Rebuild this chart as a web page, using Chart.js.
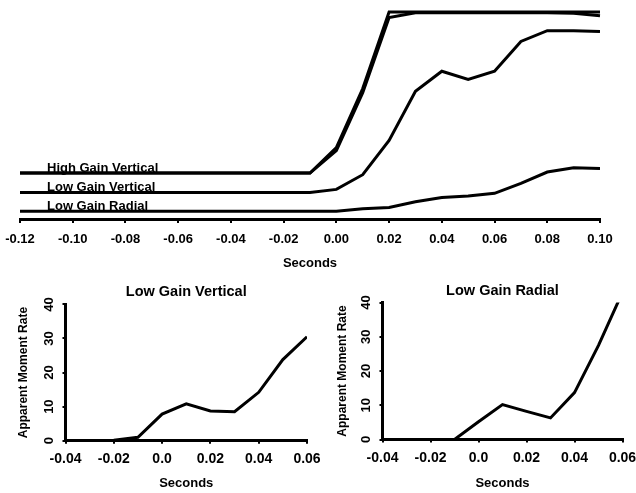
<!DOCTYPE html>
<html lang="en">
<head>
<meta charset="UTF-8">
<title>Apparent Moment Rate</title>
<style>
  body { margin: 0; background: #fff; }
  .page { position: relative; width: 636px; height: 493px; overflow: hidden; background: #fff; }
  canvas { position: absolute; }
  #topChart { left: 0; top: 0; }
  #leftChart { left: 0; top: 280px; }
  #rightChart { left: 318px; top: 280px; }
</style>
</head>
<body>
<div class="page">
  <canvas id="topChart" width="636" height="280"></canvas>
  <canvas id="leftChart" width="330" height="213"></canvas>
  <canvas id="rightChart" width="318" height="213"></canvas>
</div>

<script src="https://cdn.jsdelivr.net/npm/chart.js"></script>
<script>
// ---- data ----
// top panel: traces vs time (arbitrary amplitude, axis at 0)
const topSeconds = [-0.12, -0.11, -0.10, -0.09, -0.08, -0.07, -0.06, -0.05, -0.04, -0.03, -0.02, -0.01,
                    0.00, 0.01, 0.02, 0.03, 0.04, 0.05, 0.06, 0.07, 0.08, 0.09, 0.10, 0.11];
const highGainVertical = [22.2, 22.2, 22.2, 22.2, 22.2, 22.2, 22.2, 22.2, 22.2, 22.2, 22.2, 22.2,
                          34.5, 63, 100, 100, 100, 100, 100, 100, 100, 100, 100, null];
const highGainVertical2 = [22.2, 22.2, 22.2, 22.2, 22.2, 22.2, 22.2, 22.2, 22.2, 22.2, 22.2, 22.2,
                           33, 61, 97.3, 99.6, 99.6, 99.6, 99.6, 99.6, 99.6, 99.4, 98.2, null];
const lowGainVertical = [12.8, 12.8, 12.8, 12.8, 12.8, 12.8, 12.8, 12.8, 12.8, 12.8, 12.8, 12.8,
                         14.3, 21.4, 38, 61.7, 71.4, 67.4, 71.4, 85.8, 91, 91, 90.6, 68.9];
const lowGainRadial = [3.7, 3.7, 3.7, 3.7, 3.7, 3.7, 3.7, 3.7, 3.7, 3.7, 3.7, 3.7,
                       3.7, 5.0, 5.6, 8.3, 10.4, 11.1, 12.4, 17.2, 22.7, 24.7, 24.4, 23.1];
const topTickValues = [-0.12, -0.10, -0.08, -0.06, -0.04, -0.02, 0.00, 0.02, 0.04, 0.06, 0.08, 0.10];

// bottom panels: apparent moment rate
const rateSeconds = [-0.04, -0.03, -0.02, -0.01, 0.00, 0.01, 0.02, 0.03, 0.04, 0.05, 0.06];
const verticalRate = [-0.4, 0, 0.1, 1.0, 7.8, 10.8, 8.7, 8.5, 14.2, 23.8, 30.5];
const radialRate = [0, 0, -0.3, 0, 5.2, 10.2, 8.2, 6.3, 13.7, 27.5, 43];
const rateTickValues = [-0.04, -0.02, 0, 0.02, 0.04, 0.06];
const rateTickLabels = ['-0.04', '-0.02', '0.0', '0.02', '0.04', '0.06'];
const rateYTicks = [0, 10, 20, 30, 40];

Chart.defaults.font.family = '"Liberation Sans", Arial, sans-serif';
Chart.defaults.color = '#000';

function pts(xs, ys) {
    return xs.map((x, i) => ({ x: x, y: ys[i] }));
}

function trace(label, xs, ys, clip) {
    return {
        label: label,
        data: pts(xs, ys),
        borderColor: '#000',
        borderWidth: 3,
        pointRadius: 0,
        tension: 0,
        fill: false,
        clip: clip
    };
}

// fixed axis band, no extra side room for the end labels
function fixHeight(h) {
    return s => { s.height = h; s.paddingLeft = 0; s.paddingRight = 0; };
}

// names written just above the start of each trace
const seriesLabels = {
    id: 'seriesLabels',
    afterDatasetsDraw(chart) {
        const ctx = chart.ctx;
        ctx.save();
        ctx.font = 'bold 13px "Liberation Sans", Arial, sans-serif';
        ctx.fillStyle = '#000';
        ctx.textBaseline = 'alphabetic';
        chart.data.datasets.forEach((ds, i) => {
            if (!ds.label) return;
            const p = chart.getDatasetMeta(i).data[0];
            ctx.fillText(ds.label, p.x + 27, p.y - 1.5);
        });
        ctx.restore();
    }
};

// top panel
new Chart(document.getElementById('topChart'), {
    type: 'line',
    data: {
        datasets: [
            trace('High Gain Vertical', topSeconds, highGainVertical, false),
            trace('', topSeconds, highGainVertical2, false),
            trace('Low Gain Vertical', topSeconds, lowGainVertical, false),
            trace('Low Gain Radial', topSeconds, lowGainRadial, false)
        ]
    },
    options: {
        responsive: false,
        animation: false,
        layout: { padding: { left: 20, right: 36, top: 12, bottom: 0 } },
        plugins: { legend: { display: false }, tooltip: { enabled: false } },
        scales: {
            x: {
                type: 'linear',
                min: -0.12,
                max: 0.10,
                afterBuildTicks: s => { s.ticks = topTickValues.map(v => ({ value: v })); },
                afterFit: fixHeight(61),
                ticks: {
                    callback: v => v.toFixed(2),
                    font: { size: 13, weight: 'bold' },
                    padding: 9,
                    maxRotation: 0,
                    autoSkip: false
                },
                grid: { drawOnChartArea: false, tickLength: 4, color: '#000', lineWidth: 2 },
                border: { color: '#000', width: 3 },
                title: {
                    display: true,
                    text: 'Seconds',
                    font: { size: 13, weight: 'bold' },
                    padding: { top: 4, bottom: 9 }
                }
            },
            y: { display: false, min: 0, max: 100 }
        }
    },
    plugins: [seriesLabels]
});

function ratePanel(id, title, values, pad, yWidth, xHeight, titlePad, yTitlePad) {
    return new Chart(document.getElementById(id), {
        type: 'line',
        data: { datasets: [trace('', rateSeconds, values, undefined)] },
        options: {
            responsive: false,
            animation: false,
            layout: { padding: pad },
            plugins: {
                legend: { display: false },
                tooltip: { enabled: false },
                title: {
                    display: true,
                    text: title,
                    fullSize: false,
                    color: '#000',
                    font: { size: 14.5, weight: 'bold' },
                    padding: titlePad
                }
            },
            scales: {
                x: {
                    type: 'linear',
                    min: -0.04,
                    max: 0.06,
                    afterBuildTicks: s => { s.ticks = rateTickValues.map(v => ({ value: v })); },
                    afterFit: fixHeight(xHeight),
                    ticks: {
                        callback: (v, i) => rateTickLabels[i],
                        font: { size: 14, weight: 'bold' },
                        padding: 7,
                        maxRotation: 0,
                        autoSkip: false
                    },
                    grid: { drawOnChartArea: false, tickLength: 3, color: '#000', lineWidth: 2 },
                    border: { color: '#000', width: 3 },
                    title: {
                        display: true,
                        text: 'Seconds',
                        font: { size: 13, weight: 'bold' },
                        padding: { top: 4, bottom: 2 }
                    }
                },
                y: {
                    min: 0,
                    max: 40,
                    afterBuildTicks: s => { s.ticks = rateYTicks.map(v => ({ value: v })); },
                    afterFit: s => { s.width = yWidth; s.paddingTop = 0; s.paddingBottom = 0; },
                    ticks: {
                        font: { size: 13, weight: 'bold' },
                        minRotation: 90,
                        maxRotation: 90,
                        crossAlign: 'center',
                        padding: 6
                    },
                    grid: { drawOnChartArea: false, tickLength: 3, color: '#000', lineWidth: 2 },
                    border: { color: '#000', width: 3 },
                    title: {
                        display: true,
                        text: 'Apparent Moment Rate',
                        font: { size: 12, weight: 'bold' },
                        padding: { top: yTitlePad, bottom: 0 }
                    }
                }
            }
        }
    });
}

ratePanel('leftChart', 'Low Gain Vertical', verticalRate,
    { left: 10, right: 23, top: 0, bottom: 0 }, 55.5, 52.3, { top: 3.5, bottom: 3.5 }, 6);
ratePanel('rightChart', 'Low Gain Radial', radialRate,
    { left: 10, right: 13.5, top: 0, bottom: 0 }, 54.5, 53.5, { top: 2.5, bottom: 2.6 }, 7.5);
</script>
</body>
</html>
